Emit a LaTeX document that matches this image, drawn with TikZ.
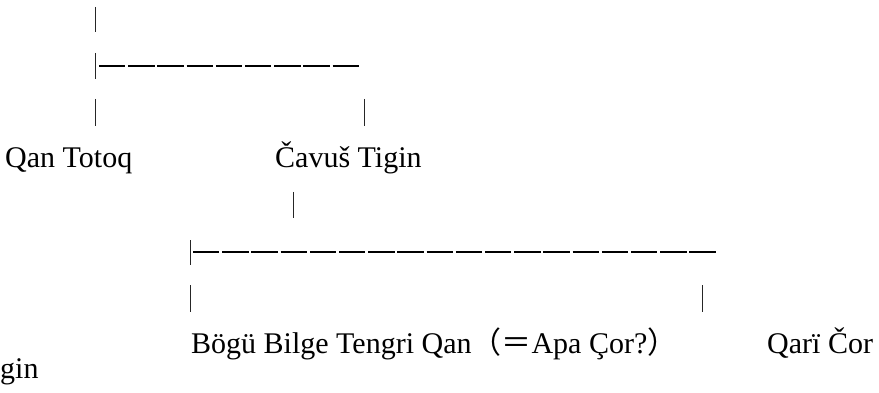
\documentclass[tikz,border=0pt]{standalone}
\usepackage{fontspec}
\setmainfont{Liberation Serif}
\newfontfamily\cjk{Noto Sans CJK SC}
\begin{document}
\begin{tikzpicture}[x=1pt,y=-1pt,
  person/.style={anchor=base west,inner sep=0pt,font=\fontsize{30}{36}\selectfont},
  bar/.style={line width=1pt,draw=black!85},
  dashline/.style={line width=1.7pt,dash pattern=on 26.4pt off 2.8pt}]
\useasboundingbox (0,0) rectangle (879,393);
% names
\node[person] (qan) at (5,168) {Qan Totoq};
\node[person] (cav) at (275,168) {Čavuš Tigin};
\node[person] (bogu) at (191,353) {Bögü Bilge Tengri Qan{\cjk（＝}Apa Çor?{\cjk）}};
\node[person] (qari) at (767,353) {Qarï Čor};
\node[person] (tig) at (0,378) {gin};
% coordinates
\coordinate (b0t) at (95,7);    \coordinate (b0b) at (95,32);
\coordinate (b1t) at (95,53);   \coordinate (b1b) at (95,79);
\coordinate (d1s) at (99,66);   \coordinate (d1e) at (361,66);
\coordinate (b2at) at (95,99);  \coordinate (b2ab) at (95,126);
\coordinate (b2bt) at (364,99); \coordinate (b2bb) at (364,126);
\coordinate (b3t) at (293,192); \coordinate (b3b) at (293,218);
\coordinate (b4t) at (190,240); \coordinate (b4b) at (190,265);
\coordinate (d2s) at (193,252); \coordinate (d2e) at (718,252);
\coordinate (b5at) at (190,285); \coordinate (b5ab) at (190,312);
\coordinate (b5bt) at (702,285); \coordinate (b5bb) at (702,312);
% connectors
\draw[bar] (b0t) -- (b0b);
\draw[bar] (b1t) -- (b1b);
\draw[dashline] (d1s) -- (d1e);
\draw[bar] (b2at) -- (b2ab);
\draw[bar] (b2bt) -- (b2bb);
\draw[bar] (b3t) -- (b3b);
\draw[bar] (b4t) -- (b4b);
\draw[dashline] (d2s) -- (d2e);
\draw[bar] (b5at) -- (b5ab);
\draw[bar] (b5bt) -- (b5bb);
\end{tikzpicture}
\end{document}
